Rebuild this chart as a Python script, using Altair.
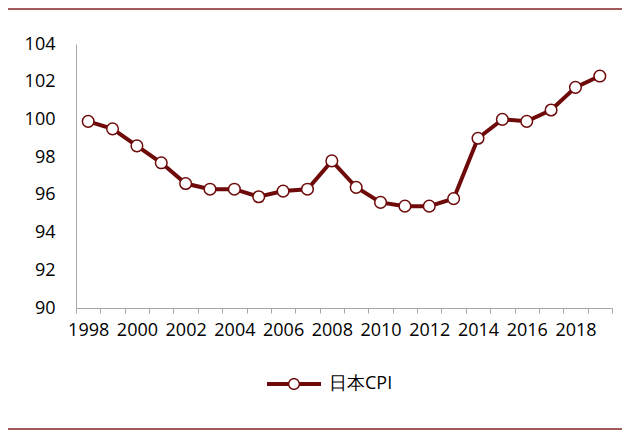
import altair as alt
import pandas as pd

years = list(range(1998, 2020))
cpi = [99.9, 99.5, 98.6, 97.7, 96.6, 96.3, 96.3, 95.9, 96.2, 96.3, 97.8,
       96.4, 95.6, 95.4, 95.4, 95.8, 99.0, 100.0, 99.9, 100.5, 101.7, 102.3]
series_name = "日本CPI"
y_ticks = [90, 92, 94, 96, 98, 100, 102, 104]

LINE = "#6F0A0A"
BORDER = "#A35A5A"
AXIS = "#A6A6A6"
FONT = "Open Sans"
TEXT = "#000000"

df = pd.DataFrame({"year": years, "cpi": cpi, "series": [series_name] * len(years)})

edges = [y - 0.5 for y in years] + [years[-1] + 0.5]

x_enc = alt.X(
    "year:Q",
    scale=alt.Scale(domain=[years[0] - 0.5, years[-1] + 0.5], nice=False, zero=False),
    axis=alt.Axis(
        values=edges,
        labelExpr="((datum.value + 0.5) % 2 == 0 && datum.value < 2019) ? format(datum.value + 0.5, 'd') : ''",
        labelOffset=12.2,
        labelOverlap=False,
        labelFlush=False,
        labelPadding=8,
        tickSize=5,
        tickColor=AXIS,
        domainColor=AXIS,
        grid=False,
        title=None,
        labelFont=FONT,
        labelFontSize=18,
        labelColor=TEXT,
    ),
)
y_enc = alt.Y(
    "cpi:Q",
    scale=alt.Scale(domain=[90, 104], nice=False, zero=False),
    axis=alt.Axis(
        values=y_ticks,
        ticks=False,
        tickSize=0,
        labelOverlap=False,
        labelFlush=False,
        domainColor=AXIS,
        grid=False,
        title=None,
        labelPadding=21,
        labelFont=FONT,
        labelFontSize=18,
        labelColor=TEXT,
    ),
)

legend_path = (
    "M-1,-0.075L-0.215,-0.075L-0.215,0.075L-1,0.075Z"
    "M0.215,-0.075L1,-0.075L1,0.075L0.215,0.075Z"
    "M0.225,0A0.225,0.225 0 1,1 -0.225,0A0.225,0.225 0 1,1 0.225,0Z"
    "M0.17,0A0.17,0.17 0 1,0 -0.17,0A0.17,0.17 0 1,0 0.17,0Z"
)

line = alt.Chart(df).mark_line(strokeWidth=4, color=LINE).encode(
    x=x_enc,
    y=y_enc,
    color=alt.Color(
        "series:N",
        scale=alt.Scale(range=[LINE]),
        legend=alt.Legend(
            title=None,
            orient="none",
            legendX=191,
            legendY=313,
            padding=0,
            symbolType=legend_path,
            symbolSize=2916,
            symbolFillColor=LINE,
            symbolStrokeColor=LINE,
            symbolStrokeWidth=0,
            labelOffset=8,
            labelFont=FONT,
            labelFontSize=18,
            labelColor=TEXT,
        ),
    ),
)

points = alt.Chart(df).mark_point(
    shape="circle", filled=True, fill="white", stroke=LINE, strokeWidth=1.5, size=135, opacity=1
).encode(x=x_enc, y=y_enc)

border_df = pd.DataFrame({"k": [0]})
top_rule = alt.Chart(border_df).mark_rule(color=BORDER, strokeWidth=2).encode(
    x=alt.value(-68), x2=alt.value(546), y=alt.value(-35)
)
bottom_rule = alt.Chart(border_df).mark_rule(color=BORDER, strokeWidth=2).encode(
    x=alt.value(-68), x2=alt.value(546), y=alt.value(385)
)

chart = alt.layer(line, points, top_rule, bottom_rule).properties(
    width=536,
    height=264,
    autosize=alt.AutoSizeParams(type="none"),
    padding={"left": 68, "top": 36, "right": 10, "bottom": 122},
    background="white",
).configure_view(stroke=None).configure_axis(
    labelOverlap=False, labelFont=FONT, labelFontSize=18, labelColor=TEXT
)

chart.save("out.html", embed_options={"renderer": "svg", "actions": False})
